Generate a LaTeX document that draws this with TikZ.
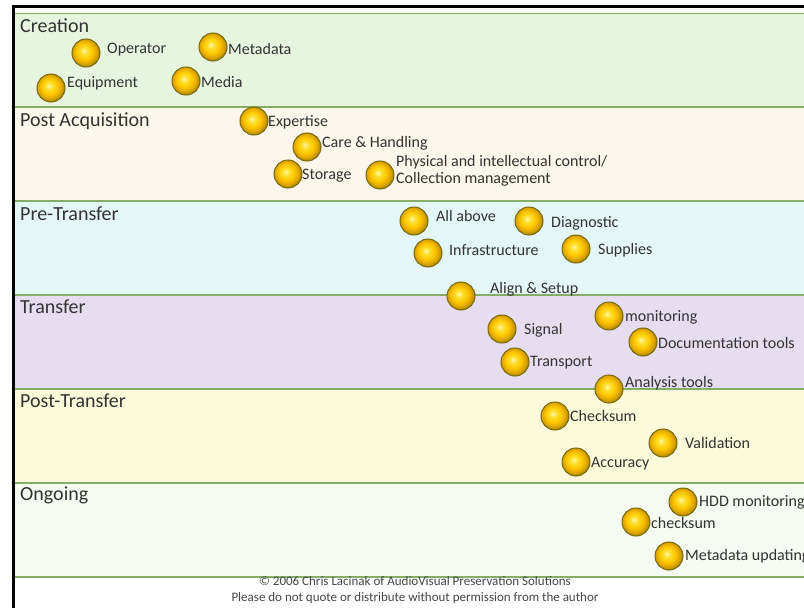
\documentclass[tikz,border=0pt]{standalone}
\usepackage{fontspec}
\setmainfont{Carlito}
\definecolor{bandline}{HTML}{86AD66}
\definecolor{cCreation}{HTML}{E7F5DF}
\definecolor{cPostAcq}{HTML}{FDF6EA}
\definecolor{cPreTr}{HTML}{E2F7F6}
\definecolor{cTransfer}{HTML}{E6DDF0}
\definecolor{cPostTr}{HTML}{FBFADA}
\definecolor{cOngoing}{HTML}{F5FBF1}
\definecolor{ballrim}{HTML}{7A6A10}
\definecolor{bA}{HTML}{FFF6B0}
\definecolor{bB}{HTML}{FFE030}
\definecolor{bC}{HTML}{FCC800}
\definecolor{bD}{HTML}{E0A600}
\definecolor{bE}{HTML}{9C8208}
\definecolor{bF}{HTML}{6C5E10}
\definecolor{txt}{HTML}{333333}
\pgfdeclareradialshading{goldball}{\pgfqpoint{-4bp}{4bp}}{color(0bp)=(bA); color(6bp)=(bB); color(14bp)=(bC); color(21bp)=(bD); color(27bp)=(bE); color(33bp)=(bF); color(50bp)=(bF)}
\begin{document}
\begin{tikzpicture}[x=1pt,y=-1pt,
  ballnode/.style={circle, minimum size=28pt, inner sep=0pt, shade, shading=goldball, draw=ballrim, line width=1pt},
  lbl/.style={anchor=west, inner sep=0pt, font=\fontsize{16}{17.5}\selectfont, text=txt},
  hdr/.style={anchor=base west, inner sep=0pt, font=\fontsize{20}{22}\selectfont, text=txt},
  foot/.style={inner sep=0pt, font=\fontsize{13}{14}\selectfont, text=txt!90}]
\useasboundingbox (0,0) rectangle (804,608);
\fill[white] (0,0) rectangle (804,608);
% bands
\fill[cCreation] (15,13) rectangle (804,107);
\fill[cPostAcq] (15,107) rectangle (804,201);
\fill[cPreTr] (15,201) rectangle (804,295);
\fill[cTransfer] (15,295) rectangle (804,389);
\fill[cPostTr] (15,389) rectangle (804,483);
\fill[cOngoing] (15,483) rectangle (804,577);
\foreach \y in {13.5,107,201,295,389,483,577}
  \draw[bandline, line width=1.5pt] (15,\y) -- (804,\y);
% outer frame
\draw[black, line width=2.5pt] (13.5,608) -- (13.5,6.5) -- (804,6.5);
% headers
\node[hdr] (hCreation) at (20,32) {Creation};
\node[hdr] (hPostAcq) at (20,126) {Post Acquisition};
\node[hdr] (hPreTr) at (20,220) {Pre-Transfer};
\node[hdr] (hTransfer) at (20,313) {Transfer};
\node[hdr] (hPostTr) at (20,407) {Post-Transfer};
\node[hdr] (hOngoing) at (20,500) {Ongoing};
% Creation
\node[ballnode] (bOperator) at (86,53) {};
\node[lbl] (tOperator) at (107,50) {Operator};
\node[ballnode] (bMetadata) at (213,47) {};
\node[lbl] (tMetadata) at (228,49) {Metadata};
\node[ballnode] (bEquipment) at (51,88) {};
\node[lbl] (tEquipment) at (67,83) {Equipment};
\node[ballnode] (bMedia) at (186,81) {};
\node[lbl] (tMedia) at (201,82) {Media};
% Post Acquisition
\node[ballnode] (bExpertise) at (254,121) {};
\node[lbl] (tExpertise) at (268,122) {Expertise};
\node[ballnode] (bCare) at (307,147) {};
\node[lbl] (tCare) at (322,143) {Care \& Handling};
\node[ballnode] (bStorage) at (288,174) {};
\node[lbl] (tStorage) at (302,176) {Storage};
\node[ballnode] (bPhysical) at (380,175) {};
\node[lbl, align=left] (tPhysical) at (396,171) {Physical and intellectual control/\\Collection management};
% Pre-Transfer
\node[ballnode] (bAllAbove) at (414,221) {};
\node[lbl] (tAllAbove) at (436,216) {All above};
\node[ballnode] (bDiagnostic) at (529,221) {};
\node[lbl] (tDiagnostic) at (551,223) {Diagnostic};
\node[ballnode] (bInfra) at (428,253) {};
\node[lbl] (tInfra) at (449,250) {Infrastructure};
\node[ballnode] (bSupplies) at (576,249) {};
\node[lbl] (tSupplies) at (598,250) {Supplies};
\node[ballnode] (bAlign) at (461,296) {};
\node[lbl] (tAlign) at (490,289) {Align \& Setup};
% Transfer
\node[ballnode] (bMonitoring) at (609,316) {};
\node[lbl] (tMonitoring) at (625,317) {monitoring};
\node[ballnode] (bSignal) at (502,329) {};
\node[lbl] (tSignal) at (524,330) {Signal};
\node[ballnode] (bDoc) at (643,342) {};
\node[lbl] (tDoc) at (658,343) {Documentation tools};
\node[ballnode] (bTransport) at (515,362) {};
\node[lbl] (tTransport) at (530,363) {Transport};
\node[ballnode] (bAnalysis) at (609,389) {};
\node[lbl] (tAnalysis) at (625,383) {Analysis tools};
% Post-Transfer
\node[ballnode] (bChecksum) at (555,416) {};
\node[lbl] (tChecksum) at (570,416) {Checksum};
\node[ballnode] (bValidation) at (663,443) {};
\node[lbl] (tValidation) at (685,443) {Validation};
\node[ballnode] (bAccuracy) at (576,462) {};
\node[lbl] (tAccuracy) at (591,464) {Accuracy};
% Ongoing
\node[ballnode] (bHDD) at (683,502) {};
\node[lbl] (tHDD) at (699,502) {HDD monitoring};
\node[ballnode] (bchecksum) at (636,522) {};
\node[lbl] (tchecksum) at (651,523) {checksum};
\node[ballnode] (bMetaUpd) at (669,556) {};
\node[lbl] (tMetaUpd) at (685,556) {Metadata updating};
% footer
\node[foot] (fLine1) at (415,581) {\textcopyright{} 2006 Chris Lacinak of AudioVisual Preservation Solutions};
\node[foot] (fLine2) at (415,598) {Please do not quote or distribute without permission from the author};
\end{tikzpicture}
\end{document}
